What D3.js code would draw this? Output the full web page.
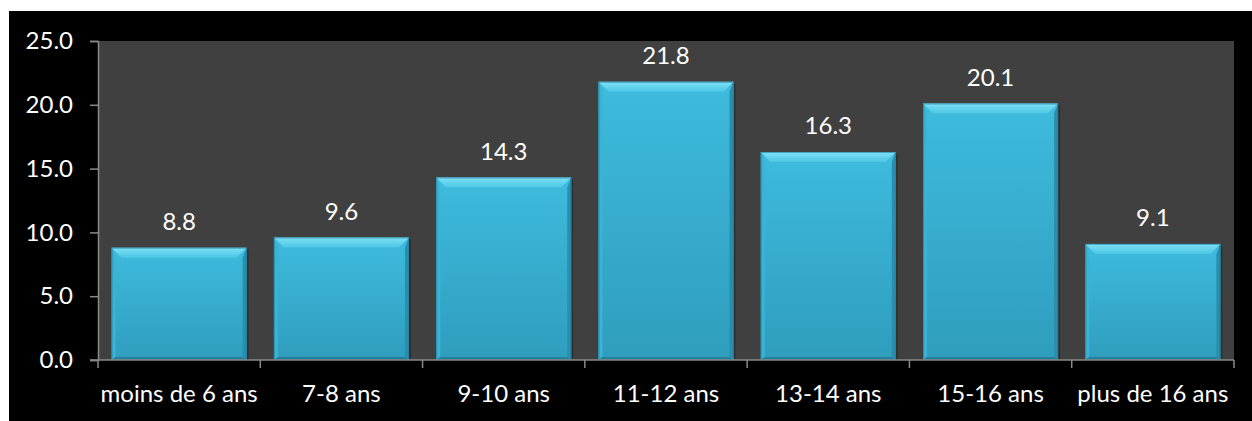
<!DOCTYPE html>
<html>
<head>
<meta charset="utf-8">
<script src="https://cdn.jsdelivr.net/npm/d3@7"></script>
<style>
  html, body { margin: 0; padding: 0; background: #ffffff; }
  svg { display: block; }
  text { font-family: Lato, "Open Sans", sans-serif; }
</style>
</head>
<body>
<script>
// Age groups and their shares (%)
const categories = ["moins de 6 ans", "7-8 ans", "9-10 ans", "11-12 ans", "13-14 ans", "15-16 ans", "plus de 16 ans"];
const values = [8.8, 9.6, 14.3, 21.8, 16.3, 20.1, 9.1];
const yTicks = [0, 5, 10, 15, 20, 25];

const W = 1252, H = 421;
const plot = { left: 98, top: 41, right: 1234, bottom: 360 };
const fontSize = 24;

const svg = d3.select("body").append("svg").attr("width", W).attr("height", H);

// black chart frame
svg.append("rect").attr("x", 9).attr("y", 11).attr("width", W - 9).attr("height", H - 11).attr("fill", "#000");

// plot area
svg.append("rect")
  .attr("x", plot.left).attr("y", plot.top)
  .attr("width", plot.right - plot.left).attr("height", plot.bottom - plot.top)
  .attr("fill", "#404040");

const x = d3.scaleBand().domain(categories).range([plot.left, plot.right])
  .paddingInner(0.168).paddingOuter(0.084);
const y = d3.scaleLinear().domain([0, 25]).range([plot.bottom, plot.top]);

// gradients
const defs = svg.append("defs");
const gMain = defs.append("linearGradient").attr("id", "barMain").attr("x1", 0).attr("y1", 0).attr("x2", 0).attr("y2", 1);
gMain.append("stop").attr("offset", "0%").attr("stop-color", "#3ebbdd");
gMain.append("stop").attr("offset", "100%").attr("stop-color", "#2f9dbe");
const gTop = defs.append("linearGradient").attr("id", "barTop").attr("x1", 0).attr("y1", 0).attr("x2", 0).attr("y2", 1);
gTop.append("stop").attr("offset", "0%").attr("stop-color", "#7fe1f6");
gTop.append("stop").attr("offset", "100%").attr("stop-color", "#4cc6e6");

const bevelTop = 10, bevelSide = 4, bevelBottom = 3;

const bars = svg.append("g").selectAll("g").data(values).join("g");

bars.each(function(v, i) {
  const g = d3.select(this);
  const x0 = x(categories[i]), x1 = x0 + x.bandwidth();
  const y0 = y(v), y1 = y(0);
  g.append("rect").attr("x", x0 + 2).attr("y", y0 + 2).attr("width", x1 - x0).attr("height", y1 - y0 - 2)
    .attr("fill", "#000").attr("opacity", 0.25);
  g.append("rect").attr("x", x0).attr("y", y0).attr("width", x1 - x0).attr("height", y1 - y0)
    .attr("fill", "url(#barMain)");
  // top bevel
  g.append("path").attr("d", `M${x0},${y0}L${x1},${y0}L${x1 - bevelTop},${y0 + bevelTop}L${x0 + bevelTop},${y0 + bevelTop}Z`)
    .attr("fill", "url(#barTop)");
  // left bevel
  g.append("path").attr("d", `M${x0},${y0}L${x0 + bevelSide},${y0 + bevelTop}L${x0 + bevelSide},${y1 - bevelBottom}L${x0},${y1}Z`)
    .attr("fill", "#3ab3d6");
  // right bevel
  g.append("path").attr("d", `M${x1},${y0}L${x1 - bevelSide},${y0 + bevelTop}L${x1 - bevelSide},${y1 - bevelBottom}L${x1},${y1}Z`)
    .attr("fill", "#2a8fae");
  // bottom bevel
  g.append("path").attr("d", `M${x0},${y1}L${x0 + bevelSide},${y1 - bevelBottom}L${x1 - bevelSide},${y1 - bevelBottom}L${x1},${y1}Z`)
    .attr("fill", "#247f9c");
  g.append("rect").attr("x", x0 + 0.5).attr("y", y0 + 0.5).attr("width", x1 - x0 - 1).attr("height", y1 - y0 - 1)
    .attr("fill", "none").attr("stroke", "#1f7d99").attr("stroke-width", 1).attr("opacity", 0.6);
});

// value labels
svg.append("g").selectAll("text").data(values).join("text")
  .attr("x", (d, i) => x(categories[i]) + x.bandwidth() / 2)
  .attr("y", d => y(d) - 18)
  .attr("text-anchor", "middle")
  .attr("fill", "#fff")
  .attr("font-size", fontSize)
  .text(d => d.toFixed(1));

// y axis
const yAxis = d3.axisLeft(y).tickValues(yTicks).tickFormat(d3.format(".1f")).tickSize(8).tickPadding(17);
const yg = svg.append("g").attr("transform", `translate(${plot.left},0)`).call(yAxis);
yg.select(".domain").attr("stroke", "#8a8a8a").attr("stroke-width", 1.5);
yg.selectAll(".tick line").attr("stroke", "#8a8a8a").attr("stroke-width", 1.5);
yg.selectAll(".tick text").attr("fill", "#fff").attr("font-size", fontSize).attr("font-family", "Lato, sans-serif");

// x axis: ticks on category boundaries
const xg = svg.append("g");
xg.append("line").attr("x1", plot.left - 8).attr("x2", plot.right).attr("y1", plot.bottom).attr("y2", plot.bottom)
  .attr("stroke", "#8a8a8a").attr("stroke-width", 1.5);
xg.selectAll("line.t").data(d3.range(categories.length + 1)).join("line").attr("class", "t")
  .attr("x1", i => plot.left + x.step() * i)
  .attr("x2", i => plot.left + x.step() * i)
  .attr("y1", plot.bottom).attr("y2", plot.bottom + 8)
  .attr("stroke", "#8a8a8a").attr("stroke-width", 1.5);
xg.selectAll("text").data(categories).join("text")
  .attr("x", d => x(d) + x.bandwidth() / 2)
  .attr("y", 402)
  .attr("text-anchor", "middle")
  .attr("fill", "#fff")
  .attr("font-size", fontSize)
  .text(d => d);
</script>
</body>
</html>
